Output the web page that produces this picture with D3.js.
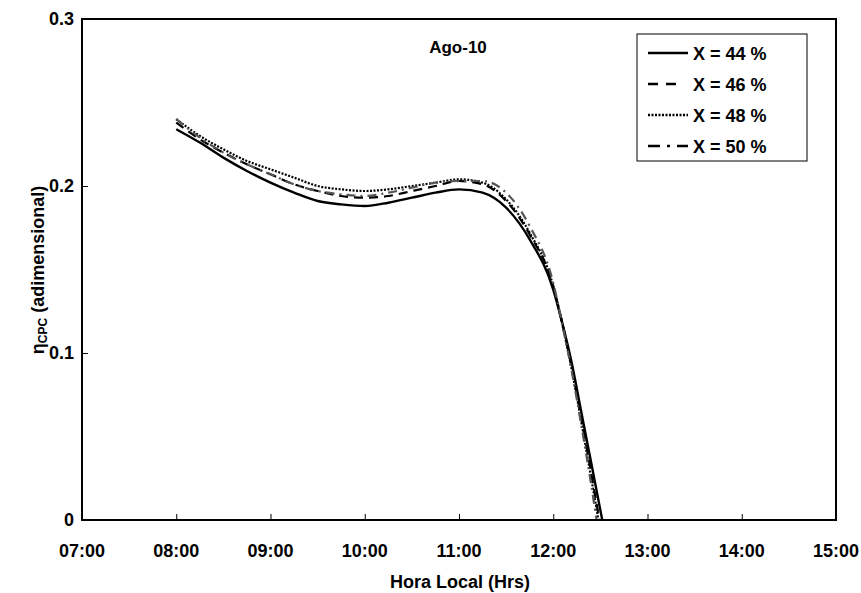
<!DOCTYPE html>
<html>
<head>
  <title>Ago-10</title>
  <script src="https://d3js.org/d3.v7.min.js"></script>
</head>
<body style="margin:0px; overflow:hidden; background:#fff;">
  <svg id="myPlot" width="861" height="593"></svg>
  <script>
    // Data (hours of day, efficiency)
    const hours = [8, 8.25, 8.5, 8.75, 9, 9.25, 9.5, 9.75, 10, 10.25, 10.5, 10.75, 11, 11.25, 11.5, 11.75, 12, 12.1, 12.2, 12.3, 12.4];
    const endHour = [12.52, 12.49, 12.48, 12.46];
    const x44 = [0.234, 0.226, 0.217, 0.209, 0.202, 0.196, 0.191, 0.189, 0.188, 0.190, 0.193, 0.196, 0.198, 0.196, 0.187, 0.168, 0.138, 0.117, 0.093, 0.064, 0.035];
    const x46 = [0.238, 0.228, 0.220, 0.213, 0.207, 0.201, 0.197, 0.194, 0.193, 0.194, 0.197, 0.200, 0.203, 0.201, 0.191, 0.171, 0.140, 0.117, 0.090, 0.060, 0.029];
    const x48 = [0.240, 0.230, 0.222, 0.215, 0.210, 0.205, 0.200, 0.198, 0.197, 0.198, 0.200, 0.202, 0.204, 0.202, 0.192, 0.172, 0.140, 0.116, 0.089, 0.058, 0.026];
    const x50 = [0.240, 0.229, 0.220, 0.213, 0.207, 0.201, 0.197, 0.195, 0.194, 0.196, 0.199, 0.202, 0.203, 0.203, 0.196, 0.176, 0.142, 0.116, 0.088, 0.056, 0.022];
    const seriesNames = ["X = 44 %", "X = 46 %", "X = 48 %", "X = 50 %"];
    const xTickLabels = ["07:00", "08:00", "09:00", "10:00", "11:00", "12:00", "13:00", "14:00", "15:00"];
    const yTicks = [0, 0.1, 0.2, 0.3];

    const styles = [
      { dash: null, color: "#000", width: 2.4, legendDash: null },
      { dash: "9,6", color: "#000", width: 2.2, legendDash: "10,8,10,30" },
      { dash: "2,1.5", color: "#000", width: 2.2, legendDash: "2,1.5" },
      { dash: "9,5,2,5", color: "#555", width: 2.2, legendDash: "12,7,3,7,12,30" }
    ];

    // Layout
    const plotL = 82, plotR = 836, plotT = 19, plotB = 520;
    const font = "'Liberation Sans', Arial, sans-serif";

    const svg = d3.select("#myPlot");

    const x = d3.scaleLinear().domain([7, 15]).range([plotL, plotR]);
    const y = d3.scaleLinear().domain([0, 0.3]).range([plotB, plotT]);

    // Curves
    const line = d3.line()
      .x(d => x(d[0]))
      .y(d => y(d[1]))
      .curve(d3.curveMonotoneX);

    const allSeries = [x44, x46, x48, x50].map((vals, i) => {
      const pts = hours.map((h, j) => [h, vals[j]]);
      pts.push([endHour[i], 0]);
      return pts;
    });

    svg.append("g")
      .selectAll("path")
      .data(allSeries).enter()
      .append("path")
      .attr("d", line)
      .attr("fill", "none")
      .attr("stroke", (d, i) => styles[i].color)
      .attr("stroke-width", (d, i) => styles[i].width)
      .attr("stroke-dasharray", (d, i) => styles[i].dash);

    // Frame
    svg.append("rect")
      .attr("x", plotL).attr("y", plotT)
      .attr("width", plotR - plotL).attr("height", plotB - plotT)
      .attr("fill", "none").attr("stroke", "#000").attr("stroke-width", 2);

    // X axis (ticks pointing inside)
    const xAxis = svg.append("g")
      .attr("transform", "translate(0," + plotB + ")")
      .call(d3.axisTop(x).tickValues(d3.range(7, 16)).tickSize(6).tickFormat(""));
    xAxis.select(".domain").remove();
    xAxis.selectAll("line").attr("stroke", "#000").attr("stroke-width", 1);

    svg.append("g")
      .selectAll("text")
      .data(xTickLabels).enter()
      .append("text")
      .attr("x", (d, i) => x(7 + i))
      .attr("y", 557)
      .attr("text-anchor", "middle")
      .style("font-family", font).style("font-weight", "bold").style("font-size", "18px")
      .text(d => d);

    // Y axis
    const yAxis = svg.append("g")
      .attr("transform", "translate(" + plotL + ",0)")
      .call(d3.axisRight(y).tickValues(yTicks).tickSize(6).tickFormat(""));
    yAxis.select(".domain").remove();
    yAxis.selectAll("line").attr("stroke", "#000").attr("stroke-width", 1);

    svg.append("g")
      .selectAll("text")
      .data(yTicks).enter()
      .append("text")
      .attr("x", 74)
      .attr("y", d => y(d) + 6)
      .attr("text-anchor", "end")
      .style("font-family", font).style("font-weight", "bold").style("font-size", "18px")
      .text(d => d === 0 ? "0" : d3.format(".1f")(d));

    // Axis titles
    svg.append("text")
      .attr("x", 460)
      .attr("y", 588)
      .attr("text-anchor", "middle")
      .style("font-family", font).style("font-weight", "bold").style("font-size", "18px")
      .text("Hora Local (Hrs)");

    const yTitle = svg.append("text")
      .attr("transform", "translate(44,270) rotate(-90)")
      .attr("text-anchor", "middle")
      .style("font-family", font).style("font-weight", "bold").style("font-size", "18px");
    yTitle.append("tspan").text("η");
    yTitle.append("tspan").attr("dy", 3).style("font-size", "12px").text("CPC");
    yTitle.append("tspan").attr("dy", -3).text(" (adimensional)");

    // Chart title
    svg.append("text")
      .attr("x", 458)
      .attr("y", 53)
      .attr("text-anchor", "middle")
      .style("font-family", font).style("font-weight", "bold").style("font-size", "17px")
      .text("Ago-10");

    // Legend
    const legend = svg.append("g");
    legend.append("rect")
      .attr("x", 637).attr("y", 34)
      .attr("width", 170).attr("height", 127)
      .attr("fill", "#fff").attr("stroke", "#000").attr("stroke-width", 1);

    const entry = legend.selectAll("g.entry")
      .data(seriesNames).enter()
      .append("g")
      .attr("transform", (d, i) => "translate(0," + (53 + i * 31) + ")");

    entry.append("line")
      .attr("x1", 648).attr("x2", 688)
      .attr("stroke", "#000")
      .attr("stroke-width", 2.5)
      .attr("stroke-dasharray", (d, i) => styles[i].legendDash);

    entry.append("text")
      .attr("x", 693)
      .attr("y", 6.5)
      .style("font-family", font).style("font-weight", "bold").style("font-size", "18px")
      .text(d => d);
  </script>
</body>
</html>
